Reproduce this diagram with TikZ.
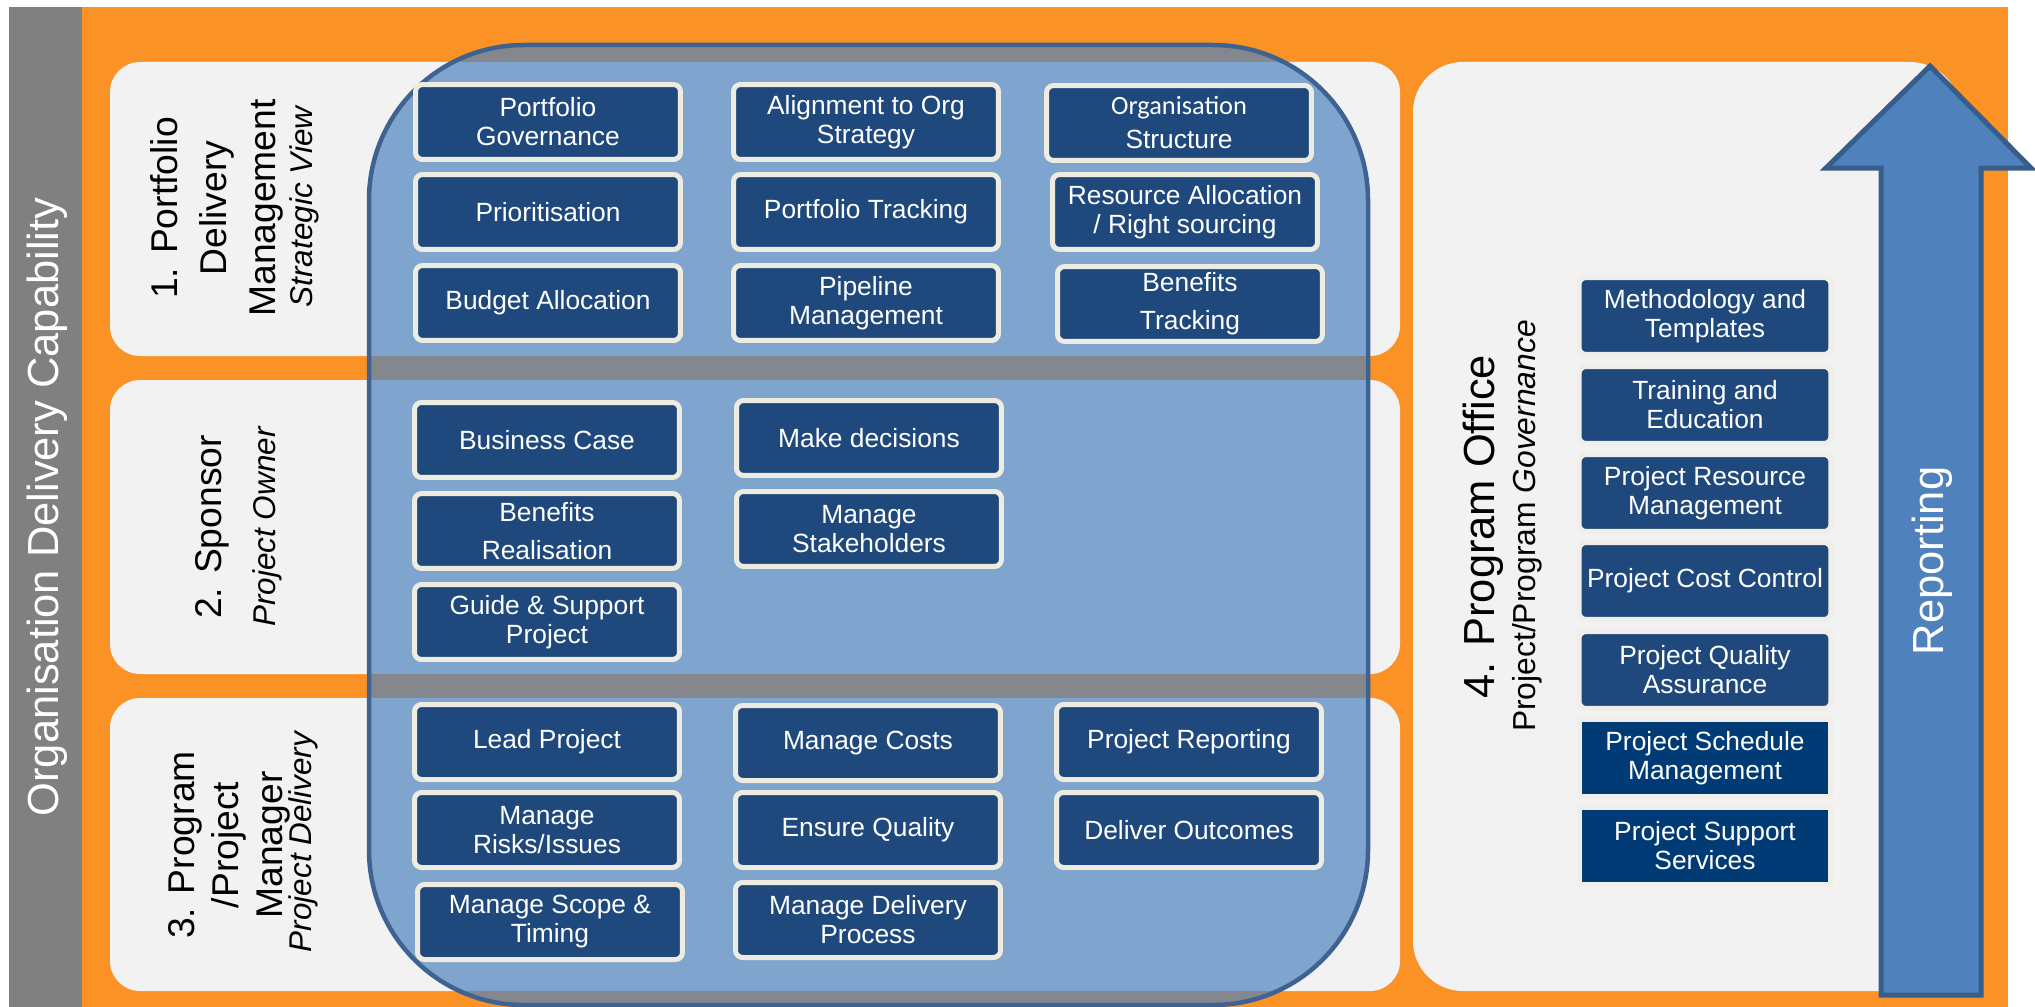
\documentclass[tikz,border=0pt]{standalone}
\usepackage{fontspec}
\setmainfont{Liberation Sans}
\newfontfamily\calfont{Carlito}
\usetikzlibrary{positioning}
\definecolor{sideorange}{RGB}{250,146,38}
\definecolor{sidegray}{RGB}{128,128,128}
\definecolor{lanegray}{RGB}{242,242,242}
\definecolor{hubblue}{RGB}{127,164,205}
\definecolor{hubband}{RGB}{133,135,143}
\definecolor{hubrim}{RGB}{62,99,146}
\definecolor{taskblue}{RGB}{31,73,125}
\definecolor{taskrim}{RGB}{238,236,225}
\definecolor{deepnavy}{RGB}{0,59,118}
\definecolor{arrowblue}{RGB}{79,129,189}
\definecolor{arrowrim}{RGB}{56,93,138}
\tikzset{task/.style = {draw=taskrim, fill=taskblue, line width=0.1cm, rounded corners=0.14cm, text=white, align=center, inner sep=0, minimum width=5.3cm, minimum height=1.5cm, font=\fontsize{15}{16.5}\selectfont}}
\tikzset{pmo/.style = {task, draw=taskrim!60!lanegray, minimum width=5.04cm, minimum height=1.54cm}}
\tikzset{pmonavy/.style = {pmo, fill=deepnavy, sharp corners}}
\tikzset{role/.style = {rotate=90, align=center, font=\fontsize{21.2}{25}\selectfont}}
\tikzset{roleview/.style = {rotate=90, align=center, font=\fontsize{17.9}{20}\selectfont\itshape}}
\tikzset{biglabel/.style = {rotate=90, font=\fontsize{24.75}{28}\selectfont}}

\begin{document}
\begin{tikzpicture}[x=0.02cm, y=-0.02cm]
  \useasboundingbox (0,0) rectangle (2035,1007);
  \fill [white] (0,0) rectangle (2035,1007);
  \fill [sidegray] (9,7) rectangle (82,1007);
  \fill [sideorange] (82,7) rectangle (2008,1007);
  \foreach \t/\b in {62/356, 380/674, 698/991} {
    \fill [lanegray, rounded corners=0.6cm] (110,\t) rectangle (1400,\b);
  }
  \fill [lanegray, rounded corners=1cm] (1413,62) rectangle (1960,991);

  % shared block across the three roles
  \begin{scope}
    \clip [rounded corners=3.1cm] (369,45) rectangle (1368,1005);
    \fill [hubband] (369,45) rectangle (1368,1005);
    \foreach \t/\b in {62/356, 380/674, 698/991} {
      \fill [hubblue] (369,\t) rectangle (1368,\b);
    }
  \end{scope}
  \draw [hubrim, line width=0.09cm, rounded corners=3.1cm] (369,45) rectangle (1368,1005);

  % portfolio
  \node [task] (pgov) at (548,122) {Portfolio\\Governance};
  \node [task] (align) at (866,122) {Alignment to Org\\Strategy};
  \node [task] (orgs) at (1179,123) {{\calfont\fontsize{15}{16}\selectfont Organisation}\\[0.1cm]Structure};
  \node [task] (prio) at (548,212) {Prioritisation};
  \node [task] (ptrack) at (866,212) {Portfolio Tracking};
  \node [task] (ralloc) at (1185,212) {Resource Allocation\\/ Right sourcing};
  \node [task] (budget) at (548,303) {Budget Allocation};
  \node [task] (pipe) at (866,303) {Pipeline\\Management};
  \node [task] (btrack) at (1190,304) {Benefits\\[0.18cm]Tracking};

  % sponsor
  \node [task] (bcase) at (547,440) {Business Case};
  \node [task] (breal) at (547,531) {Benefits\\[0.18cm]Realisation};
  \node [task] (guide) at (547,622) {Guide \& Support\\Project};
  \node [task] (decide) at (869,438) {Make decisions};
  \node [task] (stake) at (869,529) {Manage\\Stakeholders};

  % manager
  \node [task] (lead) at (547,742) {Lead Project};
  \node [task] (risks) at (547,830) {Manage\\Risks/Issues};
  \node [task] (scope) at (550,922) {Manage Scope \&\\Timing};
  \node [task] (costs) at (868,743) {Manage Costs};
  \node [task] (quality) at (868,830) {Ensure Quality};
  \node [task] (process) at (868,920) {Manage Delivery\\Process};
  \node [task] (report) at (1189,742) {Project Reporting};
  \node [task] (outcomes) at (1189,830) {Deliver Outcomes};

  % program office
  \node [pmo] (method) at (1705,316) {Methodology and\\Templates};
  \node [pmo] (train) at (1705,405) {Training and\\Education};
  \node [pmo] (resmgmt) at (1705,493) {Project Resource\\Management};
  \node [pmo] (cost) at (1705,581) {Project Cost Control};
  \node [pmo] (qa) at (1705,670) {Project Quality\\Assurance};
  \node [pmonavy] (sched) at (1705,758) {Project Schedule\\Management};
  \node [pmonavy] (support) at (1705,846) {Project Support\\Services};

  \draw [arrowrim, fill=arrowblue, line width=0.1cm] (1881,995) -- (1881,168) -- (1826,168) -- (1930,66) -- (2031,168) -- (1981,168) -- (1981,995) -- cycle;

  \node [role, font=\fontsize{21.2}{28}\selectfont] (pdm) at (217,208) {1. Portfolio\\Delivery\\Management};
  \node [roleview] (pdmview) at (304,207) {Strategic View};
  \node [role] (spons) at (212,527) {2. Sponsor};
  \node [roleview] (sponsview) at (267,527) {Project Owner};
  \node [role] (ppm) at (229,845) {3. Program\\/Project\\Manager};
  \node [roleview] (ppmview) at (303,842) {Project Delivery};
  \node [biglabel] (office) at (1483,527) {4. Program Office};
  \node [roleview, font=\fontsize{18.1}{20}\selectfont] (officeview) at (1527,526) {Project/Program \textit{Governance}};
  \node [biglabel, text=white] (reporting) at (1932,561) {Reporting};
  \node [biglabel, text=white] (capability) at (47,507) {Organisation Delivery Capability};
\end{tikzpicture}
\end{document}
